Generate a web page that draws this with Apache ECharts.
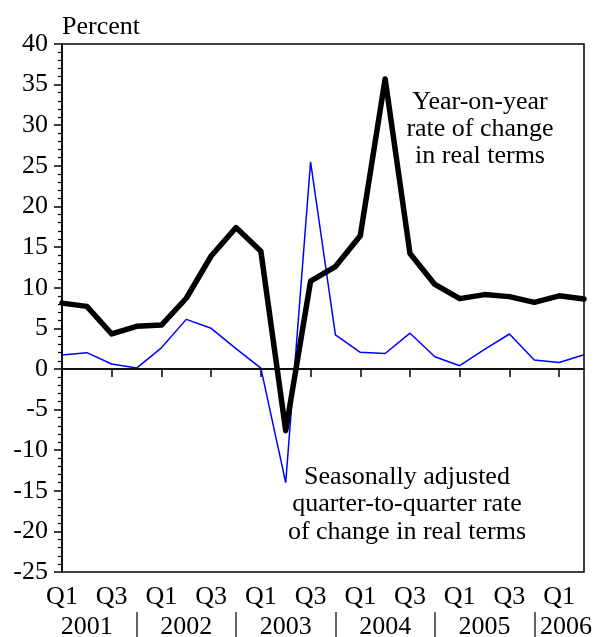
<!DOCTYPE html>
<html>
<head>
<meta charset="utf-8">
<script src="https://cdn.jsdelivr.net/npm/echarts@6/dist/echarts.min.js"></script>
<style>html,body{margin:0;padding:0;background:#fff}#c{width:598px;height:637px}</style>
</head>
<body>
<div id="c"></div>
<script>
const categories = ['2001 Q1','2001 Q2','2001 Q3','2001 Q4','2002 Q1','2002 Q2','2002 Q3','2002 Q4','2003 Q1','2003 Q2','2003 Q3','2003 Q4','2004 Q1','2004 Q2','2004 Q3','2004 Q4','2005 Q1','2005 Q2','2005 Q3','2005 Q4','2006 Q1','2006 Q2'];
const yearOnYear = [8.1, 7.7, 4.3, 5.25, 5.4, 8.7, 13.9, 17.4, 14.5, -7.6, 10.8, 12.6, 16.4, 35.7, 14.2, 10.4, 8.65, 9.15, 8.9, 8.2, 9.0, 8.6];
const quarterOnQuarter = [1.7, 2.0, 0.6, 0.1, 2.6, 6.1, 5.0, 2.5, 0.1, -14.0, 25.5, 4.2, 2.05, 1.9, 4.4, 1.5, 0.4, 2.4, 4.3, 1.1, 0.8, 1.75];
const yMin = -25, yMax = 40, yStep = 5;
const yoyLabel = 'Year-on-year\nrate of change\nin real terms';
const qoqLabel = 'Seasonally adjusted\nquarter-to-quarter rate\nof change in real terms';

const FONT = '"Liberation Serif", "Times New Roman", serif';
const FS = 26;
const chart = echarts.init(document.getElementById('c'));
chart.setOption({
  animation: false,
  backgroundColor: '#fff',
  grid: { left: 62, right: 14, top: 44, bottom: 65, containLabel: false, outerBoundsMode: 'none',
    show: true, borderColor: '#000', borderWidth: 1.5, backgroundColor: 'transparent' },
  xAxis: [{
    type: 'category', data: categories, boundaryGap: false,
    axisLine: { lineStyle: { color: '#000', width: 1.5 } },
    axisTick: { interval: 1, length: 8, lineStyle: { color: '#000', width: 1.5 } },
    axisLabel: { interval: 1, margin: 12, color: '#000', fontFamily: FONT, fontSize: FS, lineHeight: 26,
      formatter: v => v.split(' ')[1] },
    splitLine: { show: false }
  }, {
    type: 'category', data: categories, boundaryGap: false, position: 'bottom', offset: 40,
    axisLine: { show: false },
    axisTick: { show: true, interval: (i) => categories[i].endsWith('Q4'), length: 25, lineStyle: { color: '#333', width: 1.5 } },
    axisLabel: { interval: 0, margin: 2, color: '#000', fontFamily: FONT, fontSize: FS, lineHeight: 26,
      formatter: (v, i) => {
        const p = v.split(' ');
        if (p[1] !== 'Q2') return '';
        return i === categories.length - 1 ? '{e|' + p[0] + '}' : p[0];
      },
      rich: { e: { fontFamily: FONT, fontSize: FS, lineHeight: 26, color: '#000', padding: [0, 36, 0, 0] } }
    },
    splitLine: { show: false }
  }],
  yAxis: {
    type: 'value', min: yMin, max: yMax, interval: yStep,
    name: 'Percent', nameLocation: 'end', nameGap: 4,
    nameTextStyle: { color: '#000', fontFamily: FONT, fontSize: FS, align: 'left', verticalAlign: 'bottom', lineHeight: 26 },
    axisLine: { show: true, lineStyle: { color: '#000', width: 1.5 } },
    axisTick: { show: true, length: 8, lineStyle: { color: '#000', width: 1.5 } },
    minorTick: { show: true, splitNumber: 5, length: 4, lineStyle: { color: '#000', width: 1.2 } },
    axisLabel: { margin: 14, color: '#000', fontFamily: FONT, fontSize: FS },
    splitLine: { show: false }
  },
  series: [{
    name: 'qoq', type: 'line', data: quarterOnQuarter, symbol: 'none',
    lineStyle: { color: '#0000ff', width: 1.5 }, z: 2,
    markLine: { silent: true, symbol: 'none', label: { show: false },
      lineStyle: { color: '#000', width: 1.5, type: 'solid' }, data: [{ yAxis: 0 }] }
  }, {
    name: 'yoy', type: 'line', data: yearOnYear, symbol: 'none',
    lineStyle: { color: '#000', width: 5.5, join: 'round', cap: 'round' }, z: 3
  }],
  graphic: [{
    type: 'text', x: 480, y: 89, silent: true,
    style: { text: yoyLabel, x: 0, y: 0, textAlign: 'center', textVerticalAlign: 'top',
      font: FS + 'px ' + FONT, lineHeight: 27, fill: '#000' }
  }, {
    type: 'text', x: 407, y: 463, silent: true,
    style: { text: qoqLabel, x: 0, y: 0, textAlign: 'center', textVerticalAlign: 'top',
      font: FS + 'px ' + FONT, lineHeight: 27.5, fill: '#000' }
  }]
});
</script>
</body>
</html>
